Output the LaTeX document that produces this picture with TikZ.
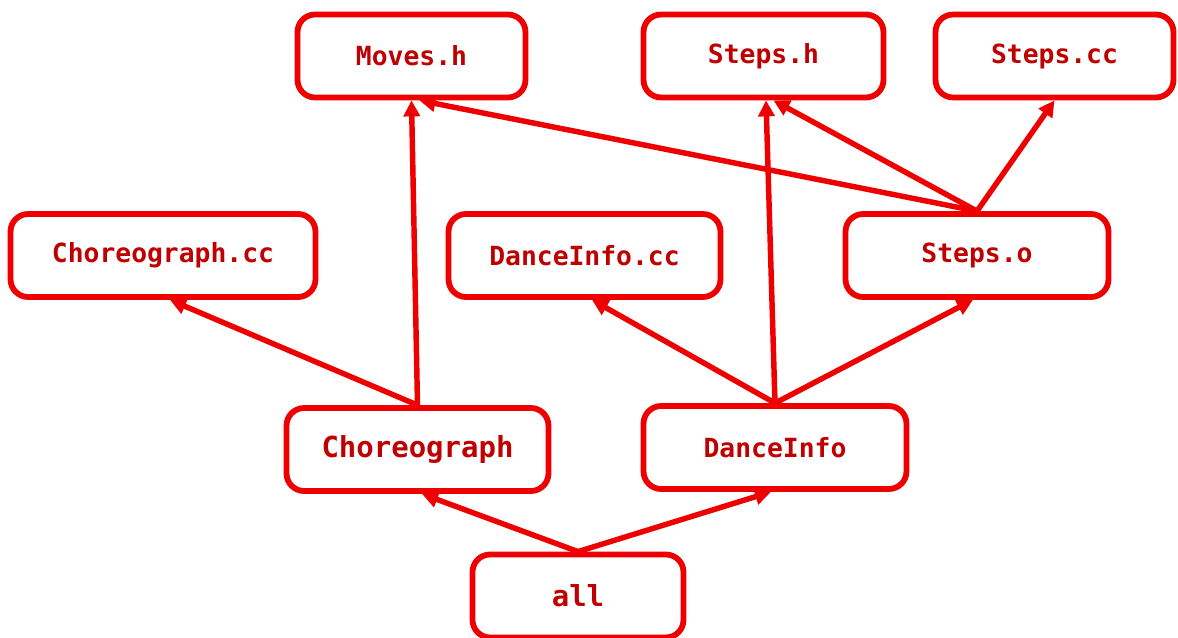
\documentclass[tikz,border=0pt]{standalone}
\usepackage{fontspec}
\setmonofont{DejaVu Sans Mono}
\usetikzlibrary{arrows.meta}
\definecolor{boxred}{HTML}{EE0000}
\definecolor{textred}{HTML}{C00000}

\tikzset{
  file/.style={draw=boxred,line width=3.3pt,rounded corners=10pt,fill=white,
    minimum height=1.66cm,text=textred,font=\ttfamily\bfseries\fontsize{15}{18}\selectfont},
  dep/.style={draw=boxred,line width=3.1pt,-{Triangle[length=0.32cm,width=0.32cm]}}
}

\begin{document}
\begin{tikzpicture}[x=0.02cm,y=-0.02cm]
\useasboundingbox (0,0) rectangle (1178,638);
% headers and sources
\node[file,minimum width=4.56cm] (moves) at (411.5,56) {Moves.h};
\node[file,minimum width=4.8cm] (stepsh) at (763.5,56) {Steps.h};
\node[file,minimum width=4.76cm] (stepscc) at (1054.5,56) {Steps.cc};
\node[file,minimum width=6.1cm] (choreocc) at (163,255.5) {Choreograph.cc};
\node[file,minimum width=5.44cm] (infocc) at (584.5,255.5) {DanceInfo.cc};
\node[file,minimum width=5.26cm] (stepso) at (977,255.5) {Steps.o};
% targets
\node[file,minimum width=5.24cm,font=\ttfamily\bfseries\fontsize{16.5}{19}\selectfont] (choreo) at (417.5,449.5) {Choreograph};
\node[file,minimum width=5.26cm] (info) at (775,447.5) {DanceInfo};
\node[file,minimum width=4.22cm,font=\ttfamily\bfseries\fontsize{16.5}{19}\selectfont] (all) at (578,596) {all};

\draw[dep] (all.north) -- ([xshift=0.09cm]choreo.south);
\draw[dep] (all.north) -- ([xshift=-0.08cm]info.south);
\draw[dep] (choreo.north) -- ([xshift=0.14cm]choreocc.south);
\draw[dep] (choreo.north) -- (moves.south);
\draw[dep] (info.north) -- ([xshift=0.15cm]infocc.south);
\draw[dep] (info.north) -- ([xshift=0.05cm]stepsh.south);
\draw[dep] (info.north) -- ([xshift=-0.08cm]stepso.south);
\draw[dep] (stepso.north) -- ([xshift=0.16cm]moves.south);
\draw[dep] (stepso.north) -- ([xshift=0.2cm]stepsh.south);
\draw[dep] (stepso.north) -- (stepscc.south);
\end{tikzpicture}
\end{document}
